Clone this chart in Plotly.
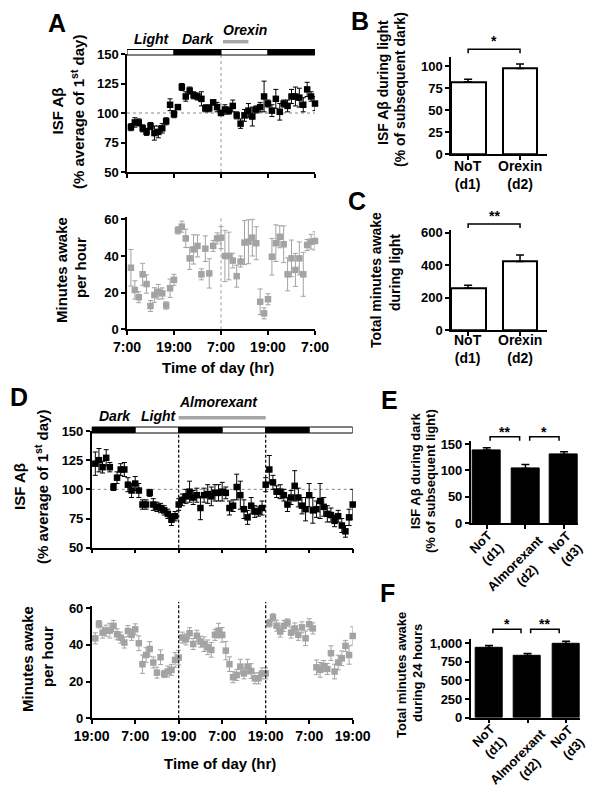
import plotly.graph_objects as go

# The page body has an 8px default margin, so the figure is sized to the remaining
# viewport and reference-pixel positions are mapped with that offset.
VIEW_W, VIEW_H = 601, 805
OFF = 8
W, H = VIEW_W - OFF, VIEW_H - OFF
FONT = "Arial, Liberation Sans, Helvetica, sans-serif"

# ---------------- data ----------------
a_hours = list(range(1, 49))
a_abeta = [88, 92, 92, 87, 84, 89, 83, 84, 87, 93, 107, 99,
           105, 122, 114, 119, 115, 114, 112, 104, 104, 109, 105, 100,
           103, 102, 106, 98, 91, 98, 102, 97, 103, 105, 114, 108,
           102, 112, 101, 108, 106, 114, 114, 113, 107, 120, 114, 108]
a_abeta_err = [3, 4, 3, 3, 3, 3, 6, 5, 4, 3, 5, 3,
               2, 3, 4, 3, 3, 3, 6, 3, 3, 2, 4, 2,
               4, 3, 5, 3, 4, 5, 6, 8, 3, 4, 13, 3,
               5, 8, 7, 3, 5, 6, 8, 8, 6, 6, 4, 6]
a_awake = [33.6, 21.5, 17.5, 30, 24.7, 12.7, 18.7, 20.5, 19.6, 13, 22.4, 27,
           54, 56, 49.6, 38.7, 43.6, 45.5, 30, 44, 30.5, 45.5, 49.6, 50,
           40, 40, 37.5, 29, 37, 47.3, 47.8, 50, 47, 15, 8.7, 16.4,
           39.6, 47, 50.5, 46.4, 30, 38.7, 32.4, 38.7, 30, 46, 47.8, 48.2]
a_awake_err = [10, 5, 3, 6, 5, 3, 4, 4, 3, 2, 5, 3,
               2, 3, 5, 6, 8, 6, 3, 7, 8, 3, 3, 6,
               14, 13, 4, 6, 3, 12, 12, 10, 9, 7, 3, 3,
               10, 10, 6, 10, 9, 10, 9, 9, 12, 3, 4, 5]
a_tickvals = [0, 12, 24, 36, 48]
a_ticktext = ["7:00", "19:00", "7:00", "19:00", "7:00"]
a_phases = ["light", "dark", "light", "dark"]
a_treat = [24.5, 31]

b_cats = ["NoT<br>(d1)", "Orexin<br>(d2)"]
b_vals = [82, 97.3]
b_err = [3, 5]
c_vals = [259, 423]
c_err = [17, 39]

d_hours = list(range(1, 73))
d_abeta = [122, 125, 119, 127, 119, 102, 110, 117, 117, 104, 99, 105,
           99, 87, 87, 97, 87, 85, 84, 82, 79, 74, 77, 87,
           91, 94, 98, 93, 95, 84, 95, 96, 94, 97, 97, 98,
           97, 84, 86, 102, 95, 83, 76, 86, 81, 81, 84, 104,
           117, 106, 98, 98, 95, 87, 93, 103, 93, 86, 83, 95,
           82, 83, 90, 85, 79, 78, 73, 77, 69, 64, 76, 87]
d_abeta_err = [10, 10, 5, 7, 4, 3, 5, 5, 6, 6, 6, 6,
               6, 4, 4, 3, 5, 4, 4, 4, 4, 5, 4, 5,
               5, 6, 9, 6, 6, 10, 6, 8, 8, 7, 7, 8,
               5, 6, 5, 11, 12, 8, 6, 7, 5, 4, 6, 6,
               12, 6, 5, 6, 5, 6, 6, 13, 8, 7, 10, 10,
               11, 7, 15, 8, 7, 6, 5, 5, 6, 5, 7, 13]
d_awake = [43.6, 51.3, 46.7, 47.8, 47.8, 50.4, 45.8, 44, 41.3, 47.6, 45.5, 48.5,
           40.9, 29.5, 34.5, 37.8, 30.4, 24.9, 33.3, 24.2, 25.5, 26.4, 31.8, 33.1,
           44, 43, 46.4, 40.5, 45, 41.8, 40.4, 38.7, 37.3, 45.5, 47.8, 45.5,
           36.9, 29.5, 22.4, 23.6, 28.2, 24.5, 28.2, 25.8, 21.8, 21.8, 24.5, 24.5,
           51.8, 55, 50.5, 47.3, 50.4, 52.2, 46.7, 49, 45.5, 49.6, 43.6, 51.3,
           49, 27.8, 26.4, 28.5, 26.9, 35.5, 25.5, 30.4, 32.7, 39.5, 34.5, 44.9]
d_awake_err = [3, 2, 3, 3, 4, 3, 3, 3, 3, 3, 3, 3,
               4, 5, 4, 4, 3, 3, 4, 2, 3, 3, 4, 4,
               3, 3, 3, 3, 3, 3, 4, 4, 4, 3, 4, 4,
               5, 4, 3, 3, 4, 3, 4, 4, 3, 3, 3, 3,
               2, 2, 3, 3, 3, 2, 3, 3, 3, 3, 4, 3,
               3, 4, 4, 3, 3, 4, 4, 4, 4, 3, 5, 5]
d_tickvals = [0, 12, 24, 36, 48, 60, 72]
d_ticktext = ["19:00", "7:00", "19:00", "7:00", "19:00", "7:00", "19:00"]
d_phases = ["dark", "light", "dark", "light", "dark", "light"]
d_treat = [24, 48]
d_splits = [24, 48]

e_cats = ["NoT<br>(d1)", "Almorexant<br>(d2)", "NoT<br>(d3)"]
e_vals = [138.7, 103.5, 130.3]
e_err = [4.3, 8, 5.2]
f_vals = [942, 834, 998]
f_err = [27, 27, 30]
f_ticktext = ["0", "250", "500", "750", "1,000"]

b_sig = ["*"]
c_sig = ["**"]
e_sig = ["**", "*"]
f_sig = ["*", "**"]

# ---------------- helpers ----------------
def fx(p):
    return (p - OFF) / W


def fy(p):
    return 1 - (p - OFF) / H


def tick_font(size=13):
    return dict(family=FONT, size=size, color="black", weight="bold")


def base_axis():
    return dict(showline=True, linecolor="black", linewidth=1.5, ticks="outside", ticklen=4,
                tickwidth=1.5, tickcolor="black", showgrid=False, zeroline=False,
                tickfont=tick_font(), fixedrange=True, automargin=False)


def xax(x0, x1, anchor, **kw):
    d = base_axis()
    d.update(domain=[fx(x0), fx(x1)], anchor=anchor)
    d.update(kw)
    return d


def yax(ytop, ybot, anchor, **kw):
    d = base_axis()
    d.update(domain=[fy(ybot), fy(ytop)], anchor=anchor)
    d.update(kw)
    return d


fig = go.Figure()

BLACK_PT = dict(symbol="square", size=6.5, color="black")
GRAY = "#a3a3a3"
GRAY_PT = dict(symbol="square", size=6.5, color=GRAY)

# A top
fig.add_trace(go.Scatter(x=a_hours, y=a_abeta, mode="markers", marker=BLACK_PT,
                         error_y=dict(type="data", array=a_abeta_err, color="black", thickness=1, width=2.5),
                         xaxis="x", yaxis="y", cliponaxis=False, showlegend=False))
# A bottom
fig.add_trace(go.Scatter(x=a_hours, y=a_awake, mode="markers", marker=GRAY_PT,
                         error_y=dict(type="data", array=a_awake_err, color=GRAY, thickness=1, width=2.5),
                         xaxis="x2", yaxis="y2", cliponaxis=False, showlegend=False))
# B
fig.add_trace(go.Bar(x=[0, 1], y=b_vals, width=0.67,
                     marker=dict(color="white", line=dict(color="black", width=2)),
                     error_y=dict(type="data", symmetric=False, array=b_err, arrayminus=[0, 0],
                                  color="black", thickness=1.5, width=4),
                     xaxis="x3", yaxis="y3", showlegend=False))
# C
fig.add_trace(go.Bar(x=[0, 1], y=c_vals, width=0.67,
                     marker=dict(color="white", line=dict(color="black", width=2)),
                     error_y=dict(type="data", symmetric=False, array=c_err, arrayminus=[0, 0],
                                  color="black", thickness=1.5, width=4),
                     xaxis="x4", yaxis="y4", showlegend=False))
# D top
fig.add_trace(go.Scatter(x=d_hours, y=d_abeta, mode="markers", marker=BLACK_PT,
                         error_y=dict(type="data", array=d_abeta_err, color="black", thickness=1, width=2.5),
                         xaxis="x5", yaxis="y5", cliponaxis=False, showlegend=False))
# D bottom
fig.add_trace(go.Scatter(x=d_hours, y=d_awake, mode="markers", marker=GRAY_PT,
                         error_y=dict(type="data", array=d_awake_err, color=GRAY, thickness=1, width=2.5),
                         xaxis="x6", yaxis="y6", cliponaxis=False, showlegend=False))
# E
fig.add_trace(go.Bar(x=[0, 1, 2], y=e_vals, width=0.72,
                     marker=dict(color="black", line=dict(color="black", width=1)),
                     error_y=dict(type="data", symmetric=False, array=e_err, arrayminus=[0, 0, 0],
                                  color="black", thickness=1.5, width=4),
                     xaxis="x7", yaxis="y7", showlegend=False))
# F
fig.add_trace(go.Bar(x=[0, 1, 2], y=f_vals, width=0.70,
                     marker=dict(color="black", line=dict(color="black", width=1)),
                     error_y=dict(type="data", symmetric=False, array=f_err, arrayminus=[0, 0, 0],
                                  color="black", thickness=1.5, width=4),
                     xaxis="x8", yaxis="y8", showlegend=False))

layout = dict(
    width=W, height=H, autosize=False, margin=dict(l=0, r=0, t=0, b=0, autoexpand=False),
    paper_bgcolor="white", plot_bgcolor="white", showlegend=False, bargap=0,
    font=dict(family=FONT, color="black"),
    # A
    xaxis=xax(127, 315, "y", range=[0, 48], tickvals=a_tickvals, showticklabels=False),
    yaxis=yax(54, 172, "x", range=[50, 150], tickvals=[50, 75, 100, 125, 150]),
    xaxis2=xax(127, 315, "y2", range=[0, 48], tickvals=a_tickvals, ticktext=a_ticktext,
               tickfont=tick_font(14)),
    yaxis2=yax(216.6, 329.3, "x2", range=[0, 61.5], tickvals=[0, 20, 40, 60]),
    # B, C
    xaxis3=xax(451, 547, "y3", range=[-0.33, 1.52], tickvals=[0, 1], showticklabels=False),
    yaxis3=yax(57.2, 154, "x3", range=[0, 110], tickvals=[0, 25, 50, 75, 100]),
    xaxis4=xax(451, 547, "y4", range=[-0.33, 1.52], tickvals=[0, 1], showticklabels=False),
    yaxis4=yax(230.3, 330, "x4", range=[0, 615], tickvals=[0, 200, 400, 600]),
    # D
    xaxis5=xax(91.7, 352.7, "y5", range=[0, 72], tickvals=d_tickvals, showticklabels=False),
    yaxis5=yax(431, 547.7, "x5", range=[50, 150], tickvals=[50, 75, 100, 125, 150]),
    xaxis6=xax(91.7, 352.7, "y6", range=[0, 72], tickvals=d_tickvals, ticktext=d_ticktext,
               tickfont=tick_font(14)),
    yaxis6=yax(605.5, 718.3, "x6", range=[0, 61.5], tickvals=[0, 20, 40, 60]),
    # E, F
    xaxis7=xax(470.7, 578, "y7", range=[-0.416, 2.36], tickvals=[0, 1, 2], showticklabels=False),
    yaxis7=yax(441.4, 523.3, "x7", range=[0, 155], tickvals=[0, 50, 100, 150]),
    xaxis8=xax(470.7, 580, "y8", range=[-0.475, 2.36], tickvals=[0, 1, 2], showticklabels=False),
    yaxis8=yax(638.8, 717.7, "x8", range=[0, 1060], tickvals=[0, 250, 500, 750, 1000],
               ticktext=f_ticktext),
)
fig.update_layout(**layout)

shapes = []
annotations = []

# light/dark bars
def phase_bars(phases, xref, ytop, ybot):
    for i, ph in enumerate(phases):
        shapes.append(dict(type="rect", xref=xref, yref="paper", x0=12 * i, x1=12 * (i + 1),
                           y0=fy(ybot), y1=fy(ytop),
                           fillcolor="white" if ph == "light" else "black",
                           line=dict(color="black", width=1), layer="above"))

phase_bars(a_phases, "x", 49.5, 55)
phase_bars(d_phases, "x5", 427, 433)

# treatment bars
shapes.append(dict(type="line", xref="x", yref="paper", x0=a_treat[0], x1=a_treat[1],
                   y0=fy(41.7), y1=fy(41.7), line=dict(color="#a6a6a6", width=3.5)))
shapes.append(dict(type="line", xref="x5", yref="paper", x0=d_treat[0], x1=d_treat[1],
                   y0=fy(417.7), y1=fy(417.7), line=dict(color="#a6a6a6", width=3.5)))

# reference lines
shapes.append(dict(type="line", xref="x", yref="y", x0=0, x1=48, y0=100, y1=100,
                   line=dict(color="#888888", width=1, dash="dot"), layer="below"))
shapes.append(dict(type="line", xref="x5", yref="y5", x0=0, x1=72, y0=100, y1=100,
                   line=dict(color="#888888", width=1, dash="dot"), layer="below"))
for xr, yr in [("x", "y domain"), ("x2", "y2 domain")]:
    shapes.append(dict(type="line", xref=xr, yref=yr, x0=24, x1=24, y0=0, y1=1,
                       line=dict(color="#999999", width=1, dash="dot"), layer="below"))
for s in d_splits:
    for xr, yr in [("x5", "y5 domain"), ("x6", "y6 domain")]:
        shapes.append(dict(type="line", xref=xr, yref=yr, x0=s, x1=s, y0=0, y1=1.03,
                           line=dict(color="black", width=1.2, dash="3px,2px"), layer="above"))

# significance brackets
def bracket(xref, xa, xb, ypx, label, star_px):
    shapes.append(dict(type="path", xref=xref, yref="paper",
                       path=f"M {xa},{fy(ypx + 4)} L {xa},{fy(ypx)} L {xb},{fy(ypx)} L {xb},{fy(ypx + 4)}",
                       line=dict(color="black", width=1.5)))
    annotations.append(dict(xref=xref, yref="paper", x=(xa + xb) / 2, y=fy(star_px + 3),
                            text=label, showarrow=False, xanchor="center", yanchor="middle",
                            font=dict(family=FONT, size=14, color="black", weight="bold")))

bracket("x3", 0, 1, 49.3, b_sig[0], 38)
bracket("x4", 0, 1, 224, c_sig[0], 213)
bracket("x7", 0.086, 0.85, 436.7, e_sig[0], 429)
bracket("x7", 1.11, 1.87, 436.7, e_sig[1], 429)
bracket("x8", 0.1, 0.83, 629.3, f_sig[0], 621)
bracket("x8", 1.08, 1.82, 629.3, f_sig[1], 621)

# category labels (as annotations for exact placement)
def cat_labels(xref, cats, ypx, size=14, angle=0, shifts=None, ys=None):
    for i, c in enumerate(cats):
        annotations.append(dict(xref=xref, yref="paper", x=i, y=fy(ys[i] if ys else ypx),
                                xshift=(shifts[i] if shifts else 0), text=c, showarrow=False,
                                xanchor="center", yanchor="middle", textangle=angle, align="center",
                                font=dict(family=FONT, size=size, color="black", weight="bold")))

cat_labels("x3", b_cats, 175)
cat_labels("x4", b_cats, 349)
cat_labels("x7", e_cats, None, size=13, angle=-45, shifts=[0, -4, 1], ys=[548, 569, 549])
cat_labels("x8", e_cats, None, size=13, angle=-45, shifts=[0, -4, 1], ys=[742, 763, 743])

# text helpers
def txt(x, y, text, size=14, angle=0, italic=False):
    annotations.append(dict(xref="paper", yref="paper", x=fx(x), y=fy(y), text=text,
                            showarrow=False, xanchor="center", yanchor="middle", textangle=angle,
                            font=dict(family=FONT, size=size, color="black", weight="bold",
                                      style="italic" if italic else "normal")))

# panel letters
for letter, (x, y) in {"A": (57, 23), "B": (360, 21), "C": (357, 201), "D": (19, 397),
                       "E": (389, 400), "F": (387, 593)}.items():
    txt(x, y, letter, size=25)

# phase labels
txt(152, 38.5, "Light", italic=True)
txt(198, 38.5, "Dark", italic=True)
txt(245, 30.5, "Orexin", italic=True)
txt(115, 416, "Dark", italic=True)
txt(159, 416, "Light", italic=True)
txt(219, 402, "Almorexant", italic=True)

# axis titles
txt(57.5, 111, "ISF Aβ", size=15, angle=-90)
txt(78, 112, "(% average of 1<sup>st</sup> day)", size=15, angle=-90)
txt(61, 270, "Minutes awake", size=15, angle=-90)
txt(81, 268, "per hour", size=15, angle=-90)
txt(218, 367, "Time of day (hr)", size=15)

txt(383, 83, "ISF Aβ during light", size=14, angle=-90)
txt(400, 89, "(% of subsequent dark)", size=14, angle=-90)
txt(376, 280, "Total minutes awake", size=14, angle=-90)
txt(395, 273, "during light", size=14, angle=-90)

txt(19, 487, "ISF Aβ", size=15, angle=-90)
txt(41, 487, "(% average of 1<sup>st</sup> day)", size=15, angle=-90)
txt(27, 659, "Minutes awake", size=15, angle=-90)
txt(47, 657, "per hour", size=15, angle=-90)
txt(220, 763, "Time of day (hr)", size=15)

txt(416, 471, "ISF Aβ during dark", size=13, angle=-90)
txt(431, 481, "(% of subsequent light)", size=13, angle=-90)
txt(401, 675, "Total minutes awake", size=13, angle=-90)
txt(417, 673, "during 24 hours", size=13, angle=-90)

fig.update_layout(shapes=shapes, annotations=annotations)
fig.write_html("out.html")
